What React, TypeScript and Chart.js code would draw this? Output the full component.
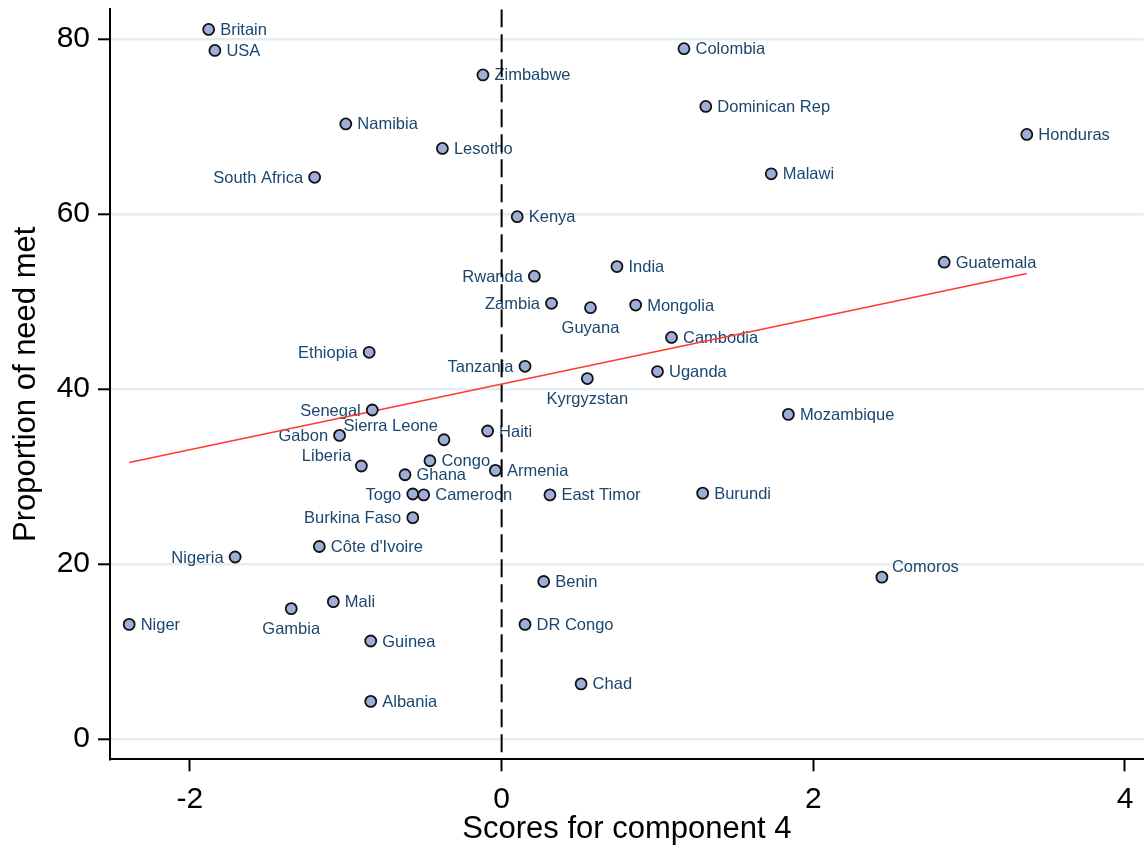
import React, { useEffect, useRef } from "react";
import { Chart, registerables } from "chart.js";

Chart.register(...registerables);

const countries = [
  "Britain", "USA", "Namibia", "South Africa", "Ethiopia", "Senegal", "Gabon", "Liberia", "Nigeria", "Côte d'Ivoire",
  "Niger", "Gambia", "Mali", "Guinea", "Albania", "Zimbabwe", "Lesotho", "Colombia", "Dominican Rep", "Malawi",
  "Kenya", "India", "Rwanda", "Zambia", "Guyana", "Mongolia", "Cambodia", "Tanzania", "Kyrgyzstan", "Uganda",
  "Haiti", "Sierra Leone", "Congo", "Armenia", "Ghana", "Togo", "Cameroon", "Burkina Faso", "East Timor", "Burundi",
  "Benin", "DR Congo", "Chad", "Honduras", "Guatemala", "Mozambique", "Comoros",
];

const scores = [
  -1.88, -1.84, -1.0, -1.2, -0.85, -0.83, -1.04, -0.9, -1.71, -1.17,
  -2.39, -1.35, -1.08, -0.84, -0.84, -0.12, -0.38, 1.17, 1.31, 1.73,
  0.1, 0.74, 0.21, 0.32, 0.57, 0.86, 1.09, 0.15, 0.55, 1.0,
  -0.09, -0.37, -0.46, -0.04, -0.62, -0.57, -0.5, -0.57, 0.31, 1.29,
  0.27, 0.15, 0.51, 3.37, 2.84, 1.84, 2.44,
];

const needMet = [
  81.1, 78.7, 70.3, 64.2, 44.2, 37.6, 34.7, 31.2, 20.8, 22.0,
  13.1, 14.9, 15.7, 11.2, 4.3, 75.9, 67.5, 78.9, 72.3, 64.6,
  59.7, 54.0, 52.9, 49.8, 49.3, 49.6, 45.9, 42.6, 41.2, 42.0,
  35.2, 34.2, 31.8, 30.7, 30.2, 28.0, 27.9, 25.3, 27.9, 28.1,
  18.0, 13.1, 6.3, 69.1, 54.5, 37.1, 18.5,
];

// marker label position as clock direction
const labelClock = [
  3, 3, 3, 9, 9, 9, 9, 10, 9, 3,
  3, 6, 3, 3, 3, 3, 3, 3, 3, 3,
  3, 3, 9, 9, 6, 3, 3, 9, 6, 3,
  3, 11, 3, 3, 3, 9, 3, 9, 3, 3,
  3, 3, 3, 3, 3, 3, 1,
];

const fitX = [-2.39, 3.37];
const fitY = [31.6, 53.2];
const refLineX = 0;

const xTicks = [-2, 0, 2, 4];
const yTicks = [0, 20, 40, 60, 80];
const xRange = [-2.513, 4.12];
const yRange = [-2.32, 83.4];

const xTitle = "Scores for component 4";
const yTitle = "Proportion of need met";

const FONT = 'Arial, "Liberation Sans", Helvetica, sans-serif';

const CLOCK_OFFSETS: Record<number, { dx: number; dy: number; align: CanvasTextAlign }> = {
  1: { dx: 10, dy: -10, align: "left" },
  3: { dx: 11.5, dy: 1, align: "left" },
  6: { dx: 0, dy: 21, align: "center" },
  9: { dx: -11.5, dy: 1, align: "right" },
  10: { dx: -10, dy: -10, align: "right" },
  11: { dx: -6, dy: -13.5, align: "right" },
};

const labelPlugin = {
  id: "markerLabels",
  beforeDatasetsDraw(chart: any) {
    const meta = chart.getDatasetMeta(0);
    const ctx = chart.ctx as CanvasRenderingContext2D;
    ctx.save();
    ctx.font = `16.5px ${FONT}`;
    ctx.fillStyle = "#1a476f";
    ctx.textBaseline = "middle";
    meta.data.forEach((el: any, i: number) => {
      const { x, y } = el.getProps(["x", "y"], true);
      const o = CLOCK_OFFSETS[labelClock[i]] || CLOCK_OFFSETS[3];
      ctx.textAlign = o.align;
      ctx.fillText(countries[i], x + o.dx, y + o.dy);
    });
    ctx.restore();
  },
};

export default function App() {
  const canvasRef = useRef<HTMLCanvasElement | null>(null);

  useEffect(() => {
    if (!canvasRef.current) return;
    const chart = new Chart(canvasRef.current, {
      type: "scatter",
      data: {
        datasets: [
          {
            label: "points",
            data: scores.map((x, i) => ({ x, y: needMet[i] })),
            pointRadius: 5.5,
            pointBackgroundColor: "#9fadd9",
            pointBorderColor: "#111111",
            pointBorderWidth: 1.8,
            showLine: false,
            order: 0,
          },
          {
            label: "fit",
            data: fitX.map((x, i) => ({ x, y: fitY[i] })),
            showLine: true,
            borderColor: "#ff3a2e",
            borderWidth: 1.6,
            pointRadius: 0,
            order: 1,
          },
          {
            label: "ref",
            data: [
              { x: refLineX, y: yRange[1] },
              { x: refLineX, y: yRange[0] },
            ],
            showLine: true,
            borderColor: "#000000",
            borderWidth: 2,
            borderDash: [18, 7],
            pointRadius: 0,
            order: 2,
          },
        ],
      },
      options: {
        animation: false,
        responsive: false,
        devicePixelRatio: 1,
        layout: { padding: { top: 9.3, right: 0, left: 0, bottom: 0 } },
        plugins: {
          legend: { display: false },
          tooltip: { enabled: false },
        },
        scales: {
          x: {
            type: "linear",
            min: xRange[0],
            max: xRange[1],
            afterBuildTicks: (scale: any) => {
              scale.ticks = xTicks.map((v) => ({ value: v }));
            },
            afterFit: (scale: any) => {
              scale.height = 90.7;
              scale.paddingLeft = 0;
              scale.paddingRight = 0;
            },
            grid: {
              drawOnChartArea: false,
              drawTicks: true,
              tickLength: 12,
              tickWidth: 2,
              tickColor: "#000000",
            },
            border: { display: true, color: "#000000", width: 2 },
            ticks: {
              font: { family: FONT, size: 30 },
              color: "#000000",
              padding: 10,
              maxRotation: 0,
            },
            title: {
              display: true,
              text: xTitle,
              color: "#000000",
              font: { family: FONT, size: 31 },
              padding: { top: 0, bottom: 2 },
            },
          },
          y: {
            type: "linear",
            min: yRange[0],
            max: yRange[1],
            afterBuildTicks: (scale: any) => {
              scale.ticks = yTicks.map((v) => ({ value: v }));
            },
            afterFit: (scale: any) => {
              scale.width = 110;
              scale.paddingTop = 0;
              scale.paddingBottom = 0;
            },
            grid: {
              color: "#e4edf0",
              lineWidth: 2.6,
              drawTicks: true,
              tickLength: 12,
              tickWidth: 2,
              tickColor: "#000000",
            },
            border: { display: true, color: "#000000", width: 2 },
            ticks: {
              font: { family: FONT, size: 30 },
              color: "#000000",
              padding: 8,
            },
            title: {
              display: true,
              text: yTitle,
              color: "#000000",
              font: { family: FONT, size: 31 },
              padding: { top: 7.4, bottom: 0 },
            },
          },
        },
      },
      plugins: [labelPlugin],
    });
    return () => chart.destroy();
  }, []);

  return (
    <div style={{ position: "absolute", left: 0, top: 0, width: 1144, height: 850, overflow: "hidden", background: "#ffffff" }}>
      <canvas ref={canvasRef} width={1151} height={850} style={{ width: 1151, height: 850, display: "block" }} />
    </div>
  );
}
